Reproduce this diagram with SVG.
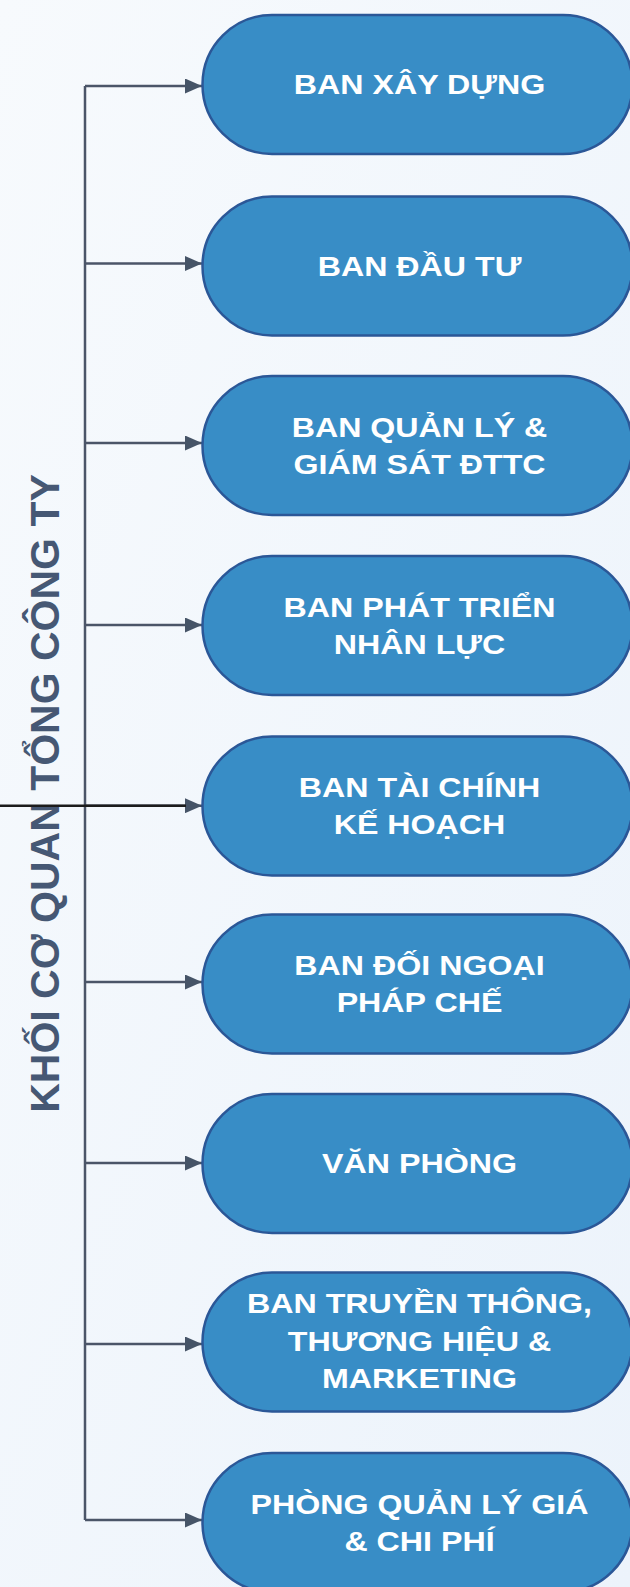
<svg xmlns="http://www.w3.org/2000/svg" width="630" height="1587" viewBox="0 0 630 1587">
  <defs>
    <linearGradient id="bg" x1="0" y1="0" x2="1" y2="1">
      <stop offset="0" stop-color="#f7fafd"/>
      <stop offset="1" stop-color="#ecf3fb"/>
    </linearGradient>
    <marker id="arr" markerWidth="17" markerHeight="15" refX="17" refY="7.5" orient="auto" markerUnits="userSpaceOnUse">
      <path d="M0,0 L17,7.5 L0,15 Z" fill="#465467"/>
    </marker>
    <style>
      .node rect { fill: #388dc6; stroke: #2b5797; stroke-width: 2.5; }
      .node text { fill: #ffffff; font-family: "Liberation Sans", Arial, sans-serif; font-weight: bold; font-size: 28.5px; text-anchor: middle; }
      .conn { fill: none; stroke: #4b5568; stroke-width: 2.5; }
      .title { fill: #465874; font-family: "Liberation Sans", Arial, sans-serif; font-weight: bold; font-size: 41px; text-anchor: middle; }
    </style>
  </defs>
  <rect x="0" y="0" width="630" height="1587" fill="url(#bg)"/>

  <text class="title" transform="translate(59,793.5) rotate(-90)" x="0" y="0">KHỐI CƠ QUAN TỔNG CÔNG TY</text>

  <g id="connectors">
    <path class="conn" d="M85,86 V1520"/>
    <path class="conn" d="M85,86 H202" marker-end="url(#arr)"/>
    <path class="conn" d="M85,263.5 H202" marker-end="url(#arr)"/>
    <path class="conn" d="M85,443 H202" marker-end="url(#arr)"/>
    <path class="conn" d="M85,625 H202" marker-end="url(#arr)"/>
    <path class="conn" d="M85,805.7 H202" marker-end="url(#arr)"/>
    <path class="conn" d="M85,982 H202" marker-end="url(#arr)"/>
    <path class="conn" d="M85,1163 H202" marker-end="url(#arr)"/>
    <path class="conn" d="M85,1344 H202" marker-end="url(#arr)"/>
    <path class="conn" d="M85,1520 H202" marker-end="url(#arr)"/>
    <path d="M0,805.7 H186" fill="none" stroke="#1c1c1c" stroke-width="2.5"/>
  </g>

  <g id="n1" class="node">
    <rect x="202.5" y="15" width="430" height="139" rx="69.5"/>
    <text transform="translate(419.5,0) scale(1.13,1)" x="0" y="94.3">BAN XÂY DỰNG</text>
  </g>
  <g id="n2" class="node">
    <rect x="202.5" y="196.5" width="430" height="139" rx="69.5"/>
    <text transform="translate(419.5,0) scale(1.13,1)" x="0" y="275.8">BAN ĐẦU TƯ</text>
  </g>
  <g id="n3" class="node">
    <rect x="202.5" y="376" width="430" height="139" rx="69.5"/>
    <text transform="translate(419.5,0) scale(1.13,1)" x="0" y="436.6">BAN QUẢN LÝ &amp;</text>
    <text transform="translate(419.5,0) scale(1.13,1)" x="0" y="473.9">GIÁM SÁT ĐTTC</text>
  </g>
  <g id="n4" class="node">
    <rect x="202.5" y="556" width="430" height="139" rx="69.5"/>
    <text transform="translate(419.5,0) scale(1.13,1)" x="0" y="616.6">BAN PHÁT TRIỂN</text>
    <text transform="translate(419.5,0) scale(1.13,1)" x="0" y="653.9">NHÂN LỰC</text>
  </g>
  <g id="n5" class="node">
    <rect x="202.5" y="736.5" width="430" height="139" rx="69.5"/>
    <text transform="translate(419.5,0) scale(1.13,1)" x="0" y="797.1">BAN TÀI CHÍNH</text>
    <text transform="translate(419.5,0) scale(1.13,1)" x="0" y="834.4">KẾ HOẠCH</text>
  </g>
  <g id="n6" class="node">
    <rect x="202.5" y="914.5" width="430" height="139" rx="69.5"/>
    <text transform="translate(419.5,0) scale(1.13,1)" x="0" y="975.1">BAN ĐỐI NGOẠI</text>
    <text transform="translate(419.5,0) scale(1.13,1)" x="0" y="1012.4">PHÁP CHẾ</text>
  </g>
  <g id="n7" class="node">
    <rect x="202.5" y="1094" width="430" height="139" rx="69.5"/>
    <text transform="translate(419.5,0) scale(1.13,1)" x="0" y="1173.3">VĂN PHÒNG</text>
  </g>
  <g id="n8" class="node">
    <rect x="202.5" y="1272.5" width="430" height="139" rx="69.5"/>
    <text transform="translate(419.5,0) scale(1.13,1)" x="0" y="1313.3">BAN TRUYỀN THÔNG,</text>
    <text transform="translate(419.5,0) scale(1.13,1)" x="0" y="1350.7">THƯƠNG HIỆU &amp;</text>
    <text transform="translate(419.5,0) scale(1.13,1)" x="0" y="1388.5">MARKETING</text>
  </g>
  <g id="n9" class="node">
    <rect x="202.5" y="1453" width="430" height="139" rx="69.5"/>
    <text transform="translate(419.5,0) scale(1.13,1)" x="0" y="1513.6">PHÒNG QUẢN LÝ GIÁ</text>
    <text transform="translate(419.5,0) scale(1.13,1)" x="0" y="1550.9">&amp; CHI PHÍ</text>
  </g>
</svg>
